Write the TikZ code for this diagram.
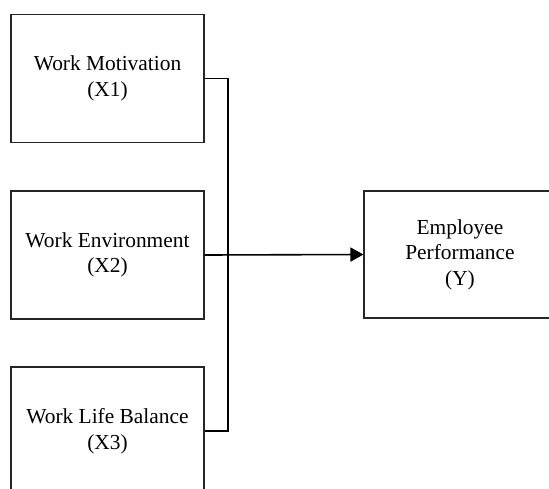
\documentclass[tikz,border=0pt]{standalone}
\usepackage{fontspec}
\setmainfont{Liberation Serif}
\usetikzlibrary{arrows.meta}
\tikzset{var/.style={draw=black!85,line width=1.1pt,minimum width=193pt,minimum height=128pt,align=center,inner sep=0pt,font=\fontsize{21.4}{25.5}\selectfont}}
\begin{document}
\begin{tikzpicture}[x=1pt,y=-1pt]
\useasboundingbox (0,0) rectangle (549,488);\clip (0,0) rectangle (549,488);
\node[var] (x1) at (107.5,78.5){Work Motivation\\(X1)};
\node[var] (x2) at (107.5,255){Work Environment\\(X2)};
\node[var] (x3) at (107.5,431){Work Life Balance\\(X3)};
\node[var,minimum width=192pt,minimum height=127pt] (y) at (460,254.5){Employee\\Performance\\(Y)};
\coordinate (bus) at (228,0);
\draw[line width=1.3pt] (x1.east) -| (bus |- x3.east) -- (x3.east);
\draw[line width=1.6pt,-{Triangle[length=13pt,width=14pt]}] (x2.east) -- (y.west);
\end{tikzpicture}
\end{document}
